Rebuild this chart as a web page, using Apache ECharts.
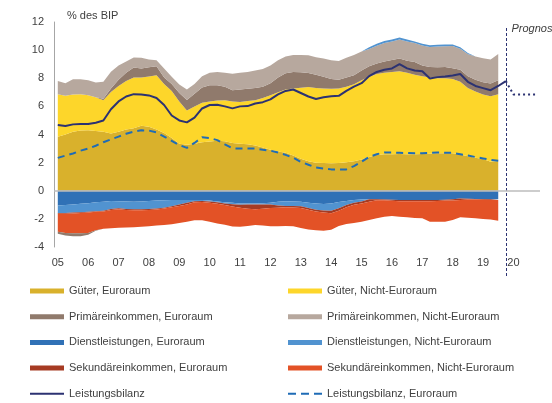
<!DOCTYPE html>
<html>
<head>
<meta charset="utf-8">
<script src="https://cdn.jsdelivr.net/npm/echarts@6/dist/echarts.min.js"></script>
<style>
html, body { margin: 0; padding: 0; background: #fff; }
#main { width: 552px; height: 403px; }
</style>
</head>
<body>
<div id="main"></div>
<script>
// Quartale 2005Q1 .. 2020Q4, Werte in % des BIP
var jahre = [2005, 2006, 2007, 2008, 2009, 2010, 2011, 2012, 2013, 2014, 2015, 2016, 2017, 2018, 2019, 2020];
var quartale = ['Q1', 'Q2', 'Q3', 'Q4'];

var gueterEA = [3.84, 4.0, 4.2, 4.28, 4.31, 4.25, 4.19, 4.08, 4.2, 4.35,
	4.45, 4.62, 4.55, 4.35, 4.1, 3.75, 3.35, 3.28, 3.35, 3.45,
	3.5, 3.55, 3.52, 3.4, 3.35, 3.3, 3.22, 3.08, 2.92, 2.8,
	2.7, 2.5, 2.28, 2.1, 2.0, 1.97, 1.95, 1.98, 2.02, 2.1,
	2.23, 2.4, 2.55, 2.6, 2.6, 2.62, 2.6, 2.6, 2.62, 2.64,
	2.66, 2.66, 2.66, 2.58, 2.45, 2.35, 2.25, 2.06, 2.1];
var gueterNEA = [3.03, 2.75, 2.65, 2.59, 2.49, 2.4, 2.25, 2.95, 3.25, 3.45,
	3.6, 3.43, 3.57, 3.87, 3.5, 3.35, 3.0, 2.42, 2.65, 2.8,
	2.85, 2.87, 2.92, 2.95, 2.97, 3.08, 3.22, 3.52, 3.88, 4.2,
	4.5, 4.78, 5.04, 5.28, 5.3, 5.3, 5.3, 5.29, 5.38, 5.48,
	5.62, 5.7, 5.75, 5.8, 5.85, 5.88, 5.8, 5.65, 5.53, 5.41,
	5.34, 5.34, 5.29, 5.17, 4.85, 4.7, 4.6, 4.66, 4.77];
var primaerEA = [-0.15, -0.18, -0.2, -0.2, -0.12, -0.04, 0.11, 0.24, 0.45, 0.6,
	0.71, 0.65, 0.66, 0.64, 0.45, 0.5, 0.6, 0.75, 0.9, 1.1,
	1.15, 1.09, 0.96, 0.8, 0.88, 0.87, 0.86, 0.79, 0.85, 1.05,
	1.15, 1.17, 1.1, 1.0, 0.95, 0.83, 0.7, 0.63, 0.65, 0.64,
	0.7, 0.75, 0.75, 0.8, 0.85, 0.9, 0.85, 0.9, 0.75, 0.75,
	0.78, 0.8, 0.77, 0.85, 0.85, 0.85, 0.87, 0.9, 0.99];
var primaerNEA = [0.93, 0.9, 1.08, 1.06, 1.05, 1.05, 1.2, 1.2, 1.0, 0.8,
	0.72, 0.75, 0.55, 0.42, 0.65, 0.5, 0.6, 0.75, 0.7, 0.8,
	0.9, 0.94, 1.0, 1.17, 1.2, 1.2, 1.25, 1.26, 1.25, 1.23,
	1.2, 1.21, 1.24, 1.26, 1.25, 1.3, 1.33, 1.32, 1.4, 1.43,
	1.35, 1.23, 1.26, 1.31, 1.31, 1.36, 1.36, 1.35, 1.43, 1.43,
	1.48, 1.48, 1.58, 1.5, 1.57, 1.65, 1.7, 1.71, 1.86];
var dienstEA = [-1.05, -1.02, -0.98, -0.92, -0.88, -0.82, -0.78, -0.73, -0.74, -0.76,
	-0.78, -0.76, -0.73, -0.7, -0.68, -0.66, -0.66, -0.65, -0.65, -0.66,
	-0.7, -0.76, -0.82, -0.86, -0.9, -0.9, -0.9, -0.88, -0.85, -0.78,
	-0.75, -0.76, -0.78, -0.85, -0.9, -0.94, -0.9, -0.8, -0.72, -0.65,
	-0.62, -0.61, -0.61, -0.62, -0.64, -0.66, -0.66, -0.66, -0.66, -0.66,
	-0.66, -0.64, -0.6, -0.55, -0.56, -0.58, -0.59, -0.6, -0.6];
var dienstNEA = [-0.53, -0.56, -0.57, -0.6, -0.61, -0.63, -0.64, -0.57, -0.51, -0.54,
	-0.54, -0.56, -0.57, -0.57, -0.52, -0.44, -0.32, -0.2, -0.1, -0.07,
	-0.06, -0.06, -0.08, -0.1, -0.1, -0.08, -0.07, -0.09, -0.13, -0.27,
	-0.33, -0.33, -0.32, -0.37, -0.45, -0.46, -0.52, -0.45, -0.3, -0.2,
	-0.14, 0.12, 0.14, 0.14, 0.14, 0.14, 0.14, 0.12, 0.12, 0.12,
	0.12, 0.12, 0.1, 0.1, 0.08, 0, 0, 0, 0];
var sekEA = [-0.06, -0.06, -0.07, -0.06, -0.06, -0.05, -0.05, -0.06, -0.06, -0.06,
	-0.06, -0.06, -0.06, -0.06, -0.07, -0.08, -0.1, -0.13, -0.07, -0.07,
	-0.09, -0.1, -0.12, -0.16, -0.2, -0.3, -0.35, -0.31, -0.25, -0.15,
	-0.1, -0.1, -0.12, -0.13, -0.13, -0.15, -0.18, -0.17, -0.16, -0.15,
	-0.14, -0.17, -0.07, -0.06, -0.07, -0.08, -0.08, -0.08, -0.08, -0.08,
	-0.07, -0.06, -0.1, -0.1, -0.06, -0.05, -0.05, -0.05, -0.05];
var sekNEA = [-1.27, -1.36, -1.41, -1.45, -1.45, -1.3, -1.23, -1.3, -1.32, -1.26,
	-1.22, -1.18, -1.16, -1.14, -1.17, -1.2, -1.22, -1.22, -1.28, -1.3,
	-1.35, -1.4, -1.4, -1.42, -1.36, -1.22, -1.12, -1.19, -1.29, -1.32,
	-1.32, -1.33, -1.43, -1.4, -1.32, -1.29, -1.18, -1.08, -1.18, -1.3,
	-1.3, -1.3, -1.27, -1.17, -1.09, -1.1, -1.15, -1.19, -1.22, -1.46,
	-1.47, -1.5, -1.38, -1.24, -1.3, -1.33, -1.36, -1.4, -1.48];
var leistungsbilanz = [4.67, 4.6, 4.72, 4.74, 4.74, 4.84, 5.0, 5.8, 6.35, 6.7,
	6.87, 6.85, 6.78, 6.6, 6.1, 5.35, 5.0, 4.86, 5.2, 5.85,
	6.1, 6.12, 6.0, 5.86, 6.0, 6.02, 6.2, 6.3, 6.5, 6.85,
	7.1, 7.2, 6.95, 6.7, 6.52, 6.65, 6.72, 6.75, 7.1, 7.4,
	7.65, 8.15, 8.45, 8.6, 8.7, 9.0, 8.7, 8.55, 8.5, 7.98,
	8.08, 8.12, 8.2, 8.3, 7.75, 7.45, 7.3, 7.15, 7.45, 7.8];
var leistungsbilanzEA = [2.34, 2.5, 2.65, 2.85, 3.0, 3.2, 3.45, 3.65, 3.85, 4.05,
	4.2, 4.3, 4.28, 4.15, 3.85, 3.55, 3.25, 3.05, 3.4, 3.8,
	3.75, 3.6, 3.3, 3.02, 3.0, 3.0, 3.0, 2.92, 2.85, 2.72,
	2.55, 2.35, 2.05, 1.85, 1.65, 1.58, 1.52, 1.52, 1.52, 1.75,
	2.06, 2.4, 2.6, 2.72, 2.72, 2.7, 2.68, 2.66, 2.66, 2.7,
	2.72, 2.7, 2.7, 2.6, 2.5, 2.4, 2.3, 2.2, 2.13];
// Prognose ab 2019Q4
var prognoseStart = 59;
var prognose = [7.8, 6.85, 6.85, 6.85, 6.85];

var schrift = 'Liberation Sans, Arial, sans-serif';
var textFarbe = '#404040';

var kategorien = [];
jahre.forEach(function(j) {
	quartale.forEach(function(q) { kategorien.push(j + q); });
});

var prognoseDaten = kategorien.map(function(k, i) {
	var p = i - prognoseStart;
	return (p >= 0 && p < prognose.length) ? prognose[p] : null;
});

function positiv(arr) { return arr.map(function(v) { return v > 0 ? v : 0; }); }
function negativ(arr) { return arr.map(function(v) { return v < 0 ? v : 0; }); }

function flaeche(name, farbe, daten) {
	return {
		name: name,
		type: 'line',
		stack: 'saldo',
		data: daten,
		symbol: 'none',
		color: farbe,
		lineStyle: { width: 0 },
		areaStyle: { color: farbe, opacity: 1 },
		emphasis: { disabled: true },
		silent: true
	};
}

var namen = {
	gEA: 'Güter, Euroraum', gNEA: 'Güter, Nicht-Euroraum',
	pEA: 'Primäreinkommen, Euroraum', pNEA: 'Primäreinkommen, Nicht-Euroraum',
	dEA: 'Dienstleistungen, Euroraum', dNEA: 'Dienstleistungen, Nicht-Euroraum',
	sEA: 'Sekundäreinkommen, Euroraum', sNEA: 'Sekundäreinkommen, Nicht-Euroraum',
	lb: 'Leistungsbilanz', lbEA: 'Leistungsbilanz, Euroraum'
};
var farben = {
	gEA: '#D9B12C', gNEA: '#FDD62A', pEA: '#907A6C', pNEA: '#B7A89E',
	dEA: '#3071B6', dNEA: '#5193D0', sEA: '#A63B23', sNEA: '#E35226',
	lb: '#2C3272', lbEA: '#1F6CB6'
};

var series = [
	flaeche(namen.gEA, farben.gEA, gueterEA),
	flaeche(namen.gNEA, farben.gNEA, gueterNEA),
	flaeche(namen.pEA, farben.pEA, positiv(primaerEA)),
	flaeche(namen.pNEA, farben.pNEA, primaerNEA),
	flaeche(namen.dNEA, farben.dNEA, positiv(dienstNEA)),
	flaeche(namen.dEA, farben.dEA, dienstEA),
	flaeche(namen.dNEA, farben.dNEA, negativ(dienstNEA)),
	flaeche(namen.sEA, farben.sEA, sekEA),
	flaeche(namen.sNEA, farben.sNEA, sekNEA),
	flaeche(namen.pEA, farben.pEA, negativ(primaerEA)),
	{
		name: namen.lbEA, type: 'line', data: leistungsbilanzEA, symbol: 'none',
		color: farben.lbEA, lineStyle: { width: 2, type: [7, 5], color: farben.lbEA },
		emphasis: { disabled: true }, silent: true, z: 4
	},
	{
		name: namen.lb, type: 'line', data: leistungsbilanz, symbol: 'none',
		color: farben.lb, lineStyle: { width: 2, color: farben.lb },
		emphasis: { disabled: true }, silent: true, z: 4,
		markLine: {
			silent: true, symbol: 'none', label: { show: false },
			lineStyle: { color: '#BDBDBD', width: 1.5, type: 'solid' },
			data: [{ yAxis: 0 }]
		}
	},
	{
		name: 'Prognose', type: 'line', data: prognoseDaten, symbol: 'none',
		lineStyle: { width: 2, type: [2, 3], color: farben.lb },
		emphasis: { disabled: true }, silent: true, z: 4
	}
];

var linie = 'path://M0,0h34v2h-34z';
var strich = 'path://M0,0h8v2h-8zM13,0h8v2h-8zM26,0h8v2h-8z';

function legende(left, eintraege) {
	return {
		orient: 'vertical', left: left, top: 285,
		padding: 0,
		itemWidth: 34, itemHeight: 5, itemGap: 13.7,
		selectedMode: false,
		itemStyle: { borderWidth: 0 },
		textStyle: { fontSize: 11, color: textFarbe, lineHeight: 12, fontFamily: schrift },
		data: eintraege
	};
}

var option = {
	animation: false,
	textStyle: { fontFamily: schrift },
	grid: { left: 54, right: 12, top: 22, bottom: 156 },
	xAxis: {
		type: 'category',
		data: kategorien,
		boundaryGap: true,
		axisLine: { show: false, onZero: false },
		axisTick: { show: false },
		axisLabel: {
			interval: function(i) { return i % 4 === 0; },
			formatter: function(v) { return v.slice(2, 4); },
			fontSize: 11, color: textFarbe, margin: 10
		},
		splitLine: { show: false }
	},
	yAxis: {
		type: 'value', min: -4, max: 12, interval: 2,
		axisLine: { show: true, lineStyle: { color: '#A6A6A6', width: 1 } },
		axisTick: { show: false },
		splitLine: { show: false },
		axisLabel: { fontSize: 11, color: textFarbe, margin: 10 }
	},
	legend: [
		legende(30, [
			{ name: namen.gEA, icon: 'rect' },
			{ name: namen.pEA, icon: 'rect' },
			{ name: namen.dEA, icon: 'rect' },
			{ name: namen.sEA, icon: 'rect' },
			{ name: namen.lb, icon: linie, itemStyle: { color: farben.lb } }
		]),
		legende(288, [
			{ name: namen.gNEA, icon: 'rect' },
			{ name: namen.pNEA, icon: 'rect' },
			{ name: namen.dNEA, icon: 'rect' },
			{ name: namen.sNEA, icon: 'rect' },
			{ name: namen.lbEA, icon: strich, itemStyle: { color: farben.lbEA } }
		])
	],
	series: series
};

var chart = echarts.init(document.getElementById('main'));
chart.setOption(option);

// Prognose-Markierung an der Kategorie 2019Q4
var xPrognose = Math.round(chart.convertToPixel({ xAxisIndex: 0 }, kategorien[prognoseStart])) + 0.5;
chart.setOption({
	graphic: [
		{
			type: 'text', left: 67, top: 10,
			style: { text: '% des BIP', font: '11px ' + schrift, fill: textFarbe }
		},
		{
			type: 'line', silent: true,
			shape: { x1: xPrognose, y1: 28, x2: xPrognose, y2: 277 },
			style: { stroke: farben.lb, lineWidth: 1, lineDash: [3, 2] }
		},
		{
			type: 'text', x: xPrognose + 5, y: 23,
			style: { text: 'Prognose', font: 'italic 11px ' + schrift, fill: textFarbe }
		}
	]
});
</script>
</body>
</html>
